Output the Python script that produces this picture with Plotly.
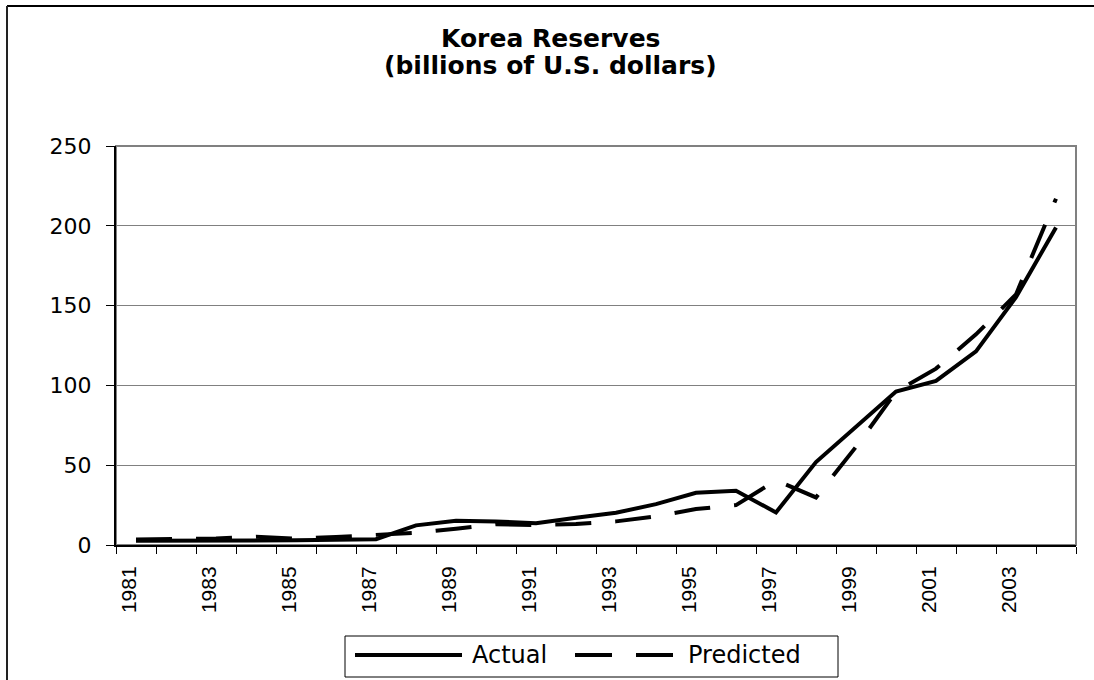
import plotly.graph_objects as go

years = list(range(1981, 2005))
actual = [2.7, 2.8, 2.3, 2.8, 2.9, 3.3, 3.6, 12.3, 15.2, 14.8, 13.7, 17.1,
          20.2, 25.6, 32.7, 34.0, 20.4, 52.0, 74.0, 96.1, 102.8, 121.3, 155.3, 199.0]
predicted = [3.5, 3.5, 4.0, 5.2, 4.0, 5.0, 6.3, 7.7, 10.2, 13.0, 12.5, 13.2,
             14.8, 18.0, 22.5, 25.0, 40.5, 29.8, 61.5, 96.0, 110.5, 132.0, 157.0, 217.0]
label_years = list(range(1981, 2005, 2))
y_ticks = [0, 50, 100, 150, 200, 250]

W, H = 1094, 680
L, R, T, B = 116, 1076, 146, 545


def px(x):
    return (x - L) / (R - L)


def py(y):
    return (B - y) / (B - T)


fig = go.Figure()
fig.add_trace(go.Scatter(x=years, y=actual, mode="lines", name="Actual",
                         line=dict(color="black", width=4), showlegend=False))
fig.add_trace(go.Scatter(x=years, y=predicted, mode="lines", name="Predicted",
                         line=dict(color="black", width=4, dash="36px,24px"),
                         showlegend=False))

fig.update_layout(
    width=W, height=H,
    margin=dict(l=L, r=W - R, t=T, b=H - B),
    paper_bgcolor="white", plot_bgcolor="white",
    showlegend=False,
)

fig.update_xaxes(
    range=[1980.5, 2004.5],
    tickmode="array",
    tickvals=[y - 0.18 for y in label_years],
    ticktext=[str(y) for y in label_years],
    tickangle=-90,
    ticks="outside", ticklen=7, tickcolor="rgba(0,0,0,0)",
    ticklabelstandoff=4,
    tickfont=dict(family="Liberation Sans, Arial", size=21, color="black"),
    showgrid=False, zeroline=False,
    showline=True, linecolor="black", linewidth=2,
    minor=dict(ticks="outside", tickmode="array",
               tickvals=[y - 0.5 for y in years] + [2004.5],
               ticklen=7, tickcolor="black", tickwidth=1, showgrid=False),
)

fig.update_yaxes(
    range=[0, 250],
    tickmode="array", tickvals=y_ticks,
    ticks="outside", ticklen=8, tickcolor="black",
    ticklabelstandoff=10,
    tickfont=dict(family="DejaVu Sans", size=22, color="black"),
    showgrid=True, gridcolor="#808080", gridwidth=1,
    zeroline=False,
    showline=True, linecolor="black", linewidth=2,
)

shapes = []
# plot area border (gray)
shapes.append(dict(type="rect", xref="paper", yref="paper", x0=0, x1=1, y0=0, y1=1,
                   line=dict(color="#808080", width=2), layer="below"))
# outer chart border (top and left)
shapes.append(dict(type="line", xref="paper", yref="paper",
                   x0=px(7), x1=px(1094), y0=py(6), y1=py(6),
                   line=dict(color="black", width=2)))
shapes.append(dict(type="line", xref="paper", yref="paper",
                   x0=px(7), x1=px(7), y0=py(6), y1=py(680),
                   line=dict(color="#222", width=2)))
# legend box
shapes.append(dict(type="rect", xref="paper", yref="paper",
                   x0=px(345), x1=px(838), y0=py(636), y1=py(677),
                   line=dict(color="black", width=1), fillcolor="white"))
shapes.append(dict(type="line", xref="paper", yref="paper",
                   x0=px(355), x1=px(462), y0=py(655), y1=py(655),
                   line=dict(color="black", width=4)))
shapes.append(dict(type="line", xref="paper", yref="paper",
                   x0=px(575), x1=px(675), y0=py(655), y1=py(655),
                   line=dict(color="black", width=4, dash="37px,24px")))

annotations = [
    dict(text="<b>Korea Reserves</b>", xref="paper", yref="paper",
         x=px(550), y=py(39), xanchor="center", yanchor="middle", showarrow=False,
         font=dict(family="DejaVu Sans", size=25, color="black")),
    dict(text="<b>(billions of U.S. dollars)</b>", xref="paper", yref="paper",
         x=px(550), y=py(65), xanchor="center", yanchor="middle", showarrow=False,
         font=dict(family="DejaVu Sans", size=25, color="black")),
    dict(text="Actual", xref="paper", yref="paper",
         x=px(470), y=py(655), xanchor="left", yanchor="middle", showarrow=False,
         font=dict(family="DejaVu Sans", size=24, color="black")),
    dict(text="Predicted", xref="paper", yref="paper",
         x=px(686), y=py(655), xanchor="left", yanchor="middle", showarrow=False,
         font=dict(family="DejaVu Sans", size=24, color="black")),
]

fig.update_layout(shapes=shapes, annotations=annotations)
fig.write_html("out.html",
               config={"displayModeBar": False},
               post_script="document.body.style.margin='0';document.body.style.overflow='hidden';")
